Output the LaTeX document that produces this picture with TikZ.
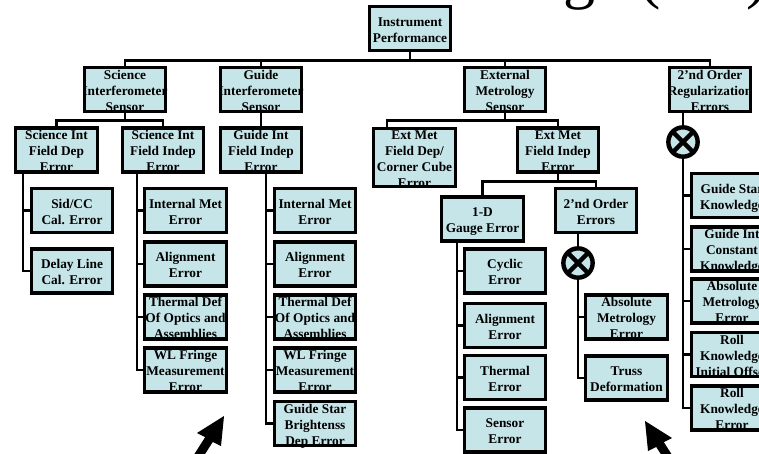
\documentclass[tikz,border=0pt]{standalone}
\usepackage{fontspec}
\setmainfont{Liberation Serif}
\usetikzlibrary{calc}

\definecolor{boxfill}{RGB}{198,229,232}

% centred multi-line label of zero size, so every box keeps its own size
\newcommand\boxtext[1]{\smash{\raisebox{-4.5pt}{\makebox[0pt]{\begin{tabular}{@{}c@{}}#1\end{tabular}}}}}

\tikzset{
  box/.style={draw, fill=boxfill, rectangle, line width=2.4pt, inner sep=0pt,
    minimum width=61pt, minimum height=33pt,
    font=\fontsize{10}{12}\selectfont\bfseries},
  tallbox/.style={box, minimum height=44pt},
  link/.style={line width=2.2pt},
  xcirc/.style={circle, draw, fill=boxfill, line width=3.3pt, inner sep=0pt,
    minimum size=22pt,
    path picture={\draw[line width=3.2pt]
      (path picture bounding box.south west) -- (path picture bounding box.north east)
      (path picture bounding box.north west) -- (path picture bounding box.south east);}},
  pointer/.style={fill=black}
}

\begin{document}
\begin{tikzpicture}[x=0.75pt, y=-0.75pt]
\useasboundingbox (0,0) rectangle (759,453);
\clip (0,0) rectangle (759,453);

% title running off the top edge
\node[font=\fontsize{48}{50}\selectfont, anchor=base west, inner sep=0pt] (title)
  at (563,-3) {ge (\hspace*{64pt})};

% ---- top levels
\node[box] (perf) at (410,28.5) {\boxtext{Instrument\\Performance}};
\node[box] (sis) at (125,89.5) {\boxtext{Science\\Interferometer\\Sensor}};
\node[box] (gis) at (261,89.5) {\boxtext{Guide\\Interferometer\\Sensor}};
\node[box] (ems) at (505,89.5) {\boxtext{External\\Metrology\\Sensor}};
\node[box] (reg) at (710,89.5) {\boxtext{2’nd Order\\Regularization\\Errors}};

\node[box] (sfd) at (56.5,150) {\boxtext{Science Int\\Field Dep\\Error}};
\node[box] (sfi) at (163,150) {\boxtext{Science Int\\Field Indep\\Error}};
\node[box] (gfi) at (261,150) {\boxtext{Guide Int\\Field Indep\\Error}};
\node[tallbox] (efd) at (414.5,157.5) {\boxtext{Ext Met\\Field Dep/\\Corner Cube\\Error}};
\node[box] (efi) at (558,150) {\boxtext{Ext Met\\Field Indep\\Error}};

% ---- science field dependent
\node[box] (sid) at (72,210.5) {\boxtext{Sid/CC\\Cal. Error}};
\node[box] (dl)  at (72,271)   {\boxtext{Delay Line\\Cal. Error}};

% ---- science field independent
\node[box] (sim) at (185.5,210.5) {\boxtext{Internal Met\\Error}};
\node[box] (sal) at (185.5,264)   {\boxtext{Alignment\\Error}};
\node[box] (sth) at (185.5,317)   {\boxtext{Thermal Def\\Of Optics and\\Assemblies}};
\node[box] (swl) at (185.5,370)   {\boxtext{WL Fringe\\Measurement\\Error}};

% ---- guide field independent
\node[box] (gim) at (315,210.5) {\boxtext{Internal Met\\Error}};
\node[box] (gal) at (315,264)   {\boxtext{Alignment\\Error}};
\node[box] (gth) at (315,317)   {\boxtext{Thermal Def\\Of Optics and\\Assemblies}};
\node[box] (gwl) at (315,370)   {\boxtext{WL Fringe\\Measurement\\Error}};
\node[box] (gsb) at (315,423.5) {\boxtext{Guide Star\\Brightenss\\Dep Error}};

% ---- external metrology field independent
\node[box] (gauge) at (482.5,219) {\boxtext{1-D\\Gauge Error}};
\node[box] (ord)   at (596,210.5) {\boxtext{2’nd Order\\Errors}};

\node[box] (cyc) at (505,271)   {\boxtext{Cyclic\\Error}};
\node[box] (mal) at (505,325.5) {\boxtext{Alignment\\Error}};
\node[box] (mth) at (505,377.5) {\boxtext{Thermal\\Error}};
\node[box] (sen) at (505,430)   {\boxtext{Sensor\\Error}};

\node[xcirc] (c2) at (578,263) {};
\node[box] (abs)   at (626.5,317) {\boxtext{Absolute\\Metrology\\Error}};
\node[box] (truss) at (626.5,378) {\boxtext{Truss\\Deformation}};

% ---- regularization
\node[xcirc] (c1) at (683,142) {};
\node[box] (gsk) at (732,195.5) {\boxtext{Guide Star\\Knowledge}};
\node[box] (gic) at (732,249)   {\boxtext{Guide Int\\Constant\\Knowledge}};
\node[box] (ame) at (732,301)   {\boxtext{Absolute\\Metrology\\Error}};
\node[box] (rki) at (732,354.5) {\boxtext{Roll\\Knowledge\\Initial Offset}};
\node[box] (rke) at (732,408)   {\boxtext{Roll\\Knowledge\\Error}};

% trunk positions
\coordinate (tsfd) at (23,0);
\coordinate (tsfi) at (137,0);
\coordinate (tgfi) at (266,0);
\coordinate (tgauge) at (457,0);
\coordinate (efdstem) at (387,0);

% ---- connectors
\foreach \c in {sis,gis,ems,reg}
  \draw[link] (perf.south) -- ++(0,8) -| (\c.north);
\foreach \c in {sfd,sfi}
  \draw[link] (sis.south) -- ++(0,7.5) -| (\c.north);
\draw[link] (gis) -- (gfi);
\draw[link] (ems.south) -- ++(0,7.5) -| (efd.north -| efdstem);
\draw[link] (ems.south) -- ++(0,7.5) -| (efi.north);
\foreach \c in {gauge,ord}
  \draw[link] (efi.south) -- ++(0,8) -| (\c.north);

\foreach \c in {sid,dl}
  \draw[link] (sfd.south -| tsfd) |- (\c.west);
\foreach \c in {sim,sal,sth,swl}
  \draw[link] (sfi.south -| tsfi) |- (\c.west);
\foreach \c in {gim,gal,gth,gwl,gsb}
  \draw[link] (gfi.south -| tgfi) |- (\c.west);
\foreach \c in {cyc,mal,mth,sen}
  \draw[link] (gauge.south -| tgauge) |- (\c.west);

\draw[link] (ord.south -| c2) -- (c2.north);
\foreach \c in {abs,truss}
  \draw[link] (c2.south) |- (\c.west);

\draw[link] (reg.south -| c1) -- (c1.north);
\foreach \c in {gsk,gic,ame,rki,rke}
  \draw[link] (c1.south) |- (\c.west);

% ---- pointer arrows along the bottom edge
\fill[pointer] (224,416) -- (197,433) -- (205.2,437.1) -- (191.7,458.2)
  -- (199.3,463) -- (212.8,441.9) -- (221,446) -- cycle;
\fill[pointer] (645,421) -- (672,438) -- (663.8,442.1) -- (677.3,463.2)
  -- (669.7,468) -- (656.2,446.9) -- (648,451) -- cycle;
\end{tikzpicture}
\end{document}
